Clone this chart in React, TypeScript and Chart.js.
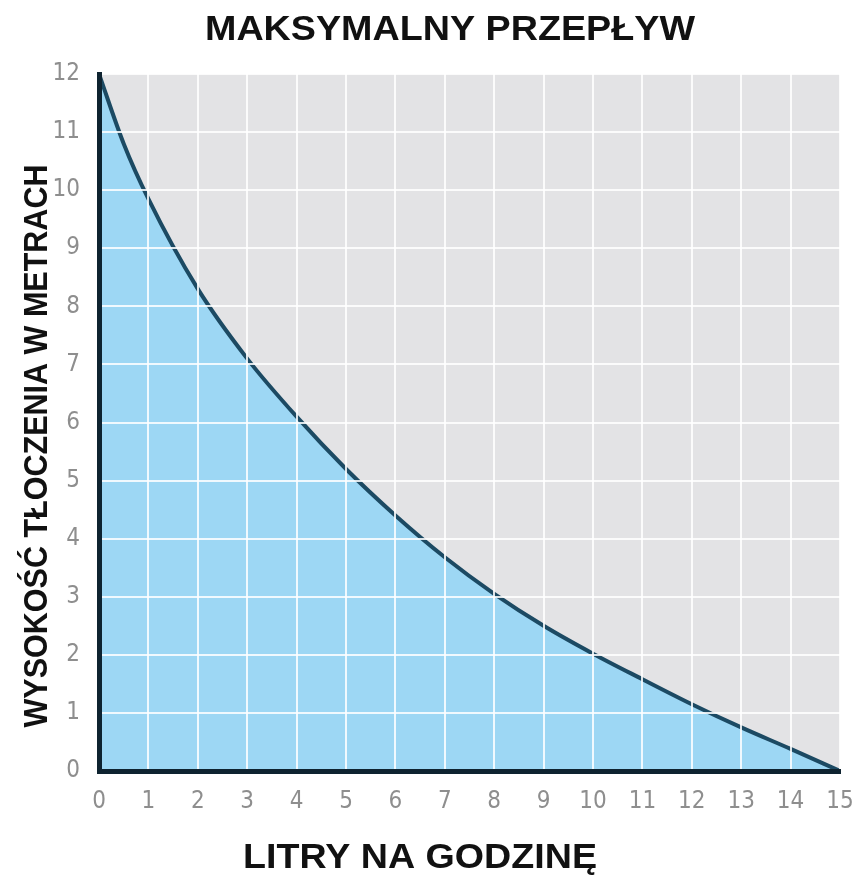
import React, { useEffect, useRef } from "react";
import { Chart, registerables } from "chart.js";

Chart.register(...registerables);

const titleText = "MAKSYMALNY PRZEPŁYW";
const xTitleText = "LITRY NA GODZINĘ";
const yTitleText = "WYSOKOŚĆ TŁOCZENIA W METRACH";

const flowLitres = [0, 0.5, 1, 2, 3, 4, 5, 6, 7, 8, 9, 10, 11, 12, 13, 14, 15];
const headMetres = [12, 10.8, 9.85, 8.3, 7.1, 6.1, 5.2, 4.4, 3.68, 3.05, 2.5, 2.02, 1.58, 1.15, 0.75, 0.38, 0];

const xTickValues = [0, 1, 2, 3, 4, 5, 6, 7, 8, 9, 10, 11, 12, 13, 14, 15];
const yTickValues = [0, 1, 2, 3, 4, 5, 6, 7, 8, 9, 10, 11, 12];

function drawFitted(ctx: CanvasRenderingContext2D, text: string, cx: number, baseline: number, target: number) {
  const w = ctx.measureText(text).width;
  ctx.save();
  ctx.translate(cx, baseline);
  ctx.scale(target / w, 1);
  ctx.textAlign = "center";
  ctx.textBaseline = "alphabetic";
  ctx.fillText(text, 0, 0);
  ctx.restore();
}

const backgroundPlugin = {
  id: "plotBg",
  beforeDraw(chart: any) {
    const { ctx, chartArea } = chart;
    ctx.save();
    ctx.fillStyle = "#e3e3e5";
    ctx.fillRect(chartArea.left, chartArea.top, chartArea.right - chartArea.left, chartArea.bottom - chartArea.top);
    ctx.restore();
  },
};

const titlesPlugin = {
  id: "titles",
  afterDraw(chart: any) {
    const { ctx } = chart;
    ctx.save();
    ctx.fillStyle = "#111111";
    ctx.font = 'bold 35px "Liberation Sans", Arial, sans-serif';
    drawFitted(ctx, titleText, 450, 40, 490);
    drawFitted(ctx, xTitleText, 420, 868, 354);
    ctx.save();
    ctx.translate(47, 446);
    ctx.rotate(-Math.PI / 2);
    ctx.font = 'bold 34px "Liberation Sans", Arial, sans-serif';
    drawFitted(ctx, yTitleText, 0, 0, 563);
    ctx.restore();
    ctx.restore();
  },
};

export default function App() {
  const canvasRef = useRef<HTMLCanvasElement | null>(null);

  useEffect(() => {
    if (!canvasRef.current) return;
    const tickFont = { family: "'Liberation Sans Narrow', 'DejaVu Sans Condensed', 'Liberation Sans', sans-serif", size: 24 };
    const gridOpts = { color: "rgba(255,255,255,0.85)", lineWidth: 2, drawTicks: false, z: 1 };
    const borderOpts = { color: "#0e2330", width: 5, z: 2 };
    const chart = new Chart(canvasRef.current, {
      type: "line",
      data: {
        datasets: [
          {
            data: flowLitres.map((x, i) => ({ x, y: headMetres[i] })),
            borderColor: "#1c4a63",
            borderWidth: 4,
            backgroundColor: "#9dd7f4",
            fill: "origin",
            pointRadius: 0,
            cubicInterpolationMode: "monotone",
          },
        ],
      },
      options: {
        animation: false,
        responsive: true,
        maintainAspectRatio: false,
        layout: { padding: { top: 74, right: 13, bottom: 0, left: 0 } },
        plugins: { legend: { display: false }, tooltip: { enabled: false }, title: { display: false } },
        scales: {
          x: {
            type: "linear",
            min: 0,
            max: 15,
            afterFit: (s: any) => {
              s.height = 113;
              s.paddingRight = 0;
              s.paddingLeft = 0;
            },
            afterBuildTicks: (s: any) => { s.ticks = xTickValues.map((v) => ({ value: v })); },
            ticks: { font: tickFont, color: "#8e8e8e", padding: 16, autoSkip: false, maxRotation: 0, z: 3 },
            grid: gridOpts,
            border: borderOpts,
          },
          y: {
            type: "linear",
            min: 0,
            max: 12,
            afterFit: (s: any) => {
              s.width = 99;
              s.paddingTop = 0;
              s.paddingBottom = 0;
            },
            afterBuildTicks: (s: any) => { s.ticks = yTickValues.map((v) => ({ value: v })); },
            ticks: { font: tickFont, color: "#8e8e8e", padding: 19, autoSkip: false, z: 3 },
            grid: gridOpts,
            border: borderOpts,
          },
        },
      },
      plugins: [backgroundPlugin, titlesPlugin],
    });
    return () => chart.destroy();
  }, []);

  return (
    <div style={{ position: "absolute", left: 0, top: 0, width: 853, height: 884, background: "#ffffff" }}>
      <canvas ref={canvasRef} />
    </div>
  );
}
